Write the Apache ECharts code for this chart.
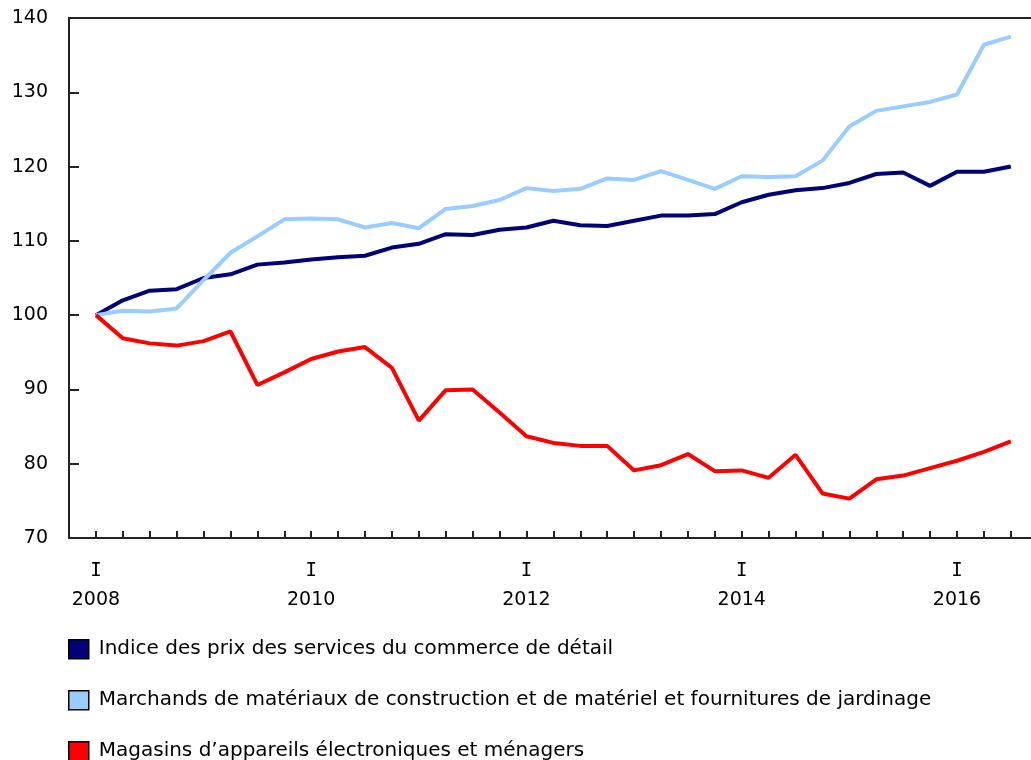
<!DOCTYPE html>
<html>
<head>
<meta charset="utf-8">
<script src="https://cdn.jsdelivr.net/npm/echarts@6/dist/echarts.min.js"></script>
<style>
  html, body { margin: 0; padding: 0; background: #fff; }
  #chart { width: 1031px; height: 760px; }
</style>
</head>
<body>
<div id="chart"></div>
<script>
// trimestres 2008 T1 .. 2016 T3
const quarters = [];
for (let y = 2008; y <= 2016; y++) {
    for (let q = 1; q <= 4; q++) {
        if (y === 2016 && q > 3) break;
        quarters.push(y + ' T' + q);
    }
}

const seriesNames = [
    'Indice des prix des services du commerce de détail',
    'Marchands de matériaux de construction et de matériel et fournitures de jardinage',
    'Magasins d\u2019appareils électroniques et ménagers'
];

const indiceCommerce = [100, 102.0, 103.3, 103.5, 105.0, 105.5, 106.8, 107.1, 107.5, 107.8,
    108.0, 109.1, 109.6, 110.9, 110.8, 111.5, 111.8, 112.7, 112.1, 112.0,
    112.7, 113.4, 113.4, 113.6, 115.2, 116.2, 116.8, 117.1, 117.8, 119.0,
    119.2, 117.4, 119.3, 119.3, 120.0];

const marchandsMateriaux = [100, 100.6, 100.5, 100.9, 104.7, 108.4, 110.6, 112.9, 113.0, 112.9,
    111.8, 112.4, 111.7, 114.3, 114.7, 115.5, 117.1, 116.7, 117.0, 118.4,
    118.2, 119.4, 118.2, 117.0, 118.7, 118.6, 118.7, 120.8, 125.4, 127.5,
    128.1, 128.7, 129.7, 136.4, 137.5];

const magasinsElectro = [100, 96.9, 96.2, 95.9, 96.5, 97.8, 90.6, 92.3, 94.1, 95.1,
    95.7, 92.9, 85.8, 89.9, 90.0, 86.9, 83.7, 82.8, 82.4, 82.4,
    79.1, 79.8, 81.3, 79.0, 79.1, 78.1, 81.2, 76.0, 75.3, 77.9,
    78.4, 79.4, 80.4, 81.6, 83.0];

const yTicks = [70, 80, 90, 100, 110, 120, 130, 140];

const colors = ['#000078', '#99ccff', '#ff0000'];
const font = 'DejaVu Sans, Verdana, sans-serif';

const toPoints = arr => arr.map((v, i) => [i, v]);

const chart = echarts.init(document.getElementById('chart'));
chart.setOption({
    animation: false,
    color: colors,
    grid: { left: 69, right: 0, top: 18, bottom: 222, containLabel: false },
    xAxis: [{
        type: 'value',
        min: -1,
        max: 34.75,
        interval: 1,
        splitLine: { show: false },
        axisLine: { onZero: false, lineStyle: { color: '#222', width: 2 } },
        axisTick: { inside: true, length: 7, lineStyle: { color: '#222', width: 2 } },
        axisLabel: {
            margin: 18,
            fontSize: 19,
            lineHeight: 29.5,
            fontFamily: font,
            color: '#000',
            showMaxLabel: false,
            rich: {
                q: { fontSize: 19, lineHeight: 29.5, fontFamily: 'DejaVu Sans Mono', color: '#000' },
                y: { fontSize: 19, lineHeight: 29.5, fontFamily: font, color: '#000' }
            },
            formatter: v => {
                if (v >= 0 && v % 8 === 0) return '{q|I}\n{y|' + quarters[v].slice(0, 4) + '}';
                return '';
            }
        }
    }, {
        type: 'value',
        position: 'top',
        min: -1,
        max: 34.75,
        axisLine: { show: true, onZero: false, lineStyle: { color: '#222', width: 2 } },
        axisTick: { show: false },
        axisLabel: { show: false },
        splitLine: { show: false }
    }],
    yAxis: {
        type: 'value',
        min: yTicks[0],
        max: yTicks[yTicks.length - 1],
        interval: 10,
        splitLine: { show: false },
        axisLine: { show: true, onZero: false, lineStyle: { color: '#222', width: 2 } },
        axisTick: { show: true, inside: true, length: 10, lineStyle: { color: '#222', width: 2 } },
        axisLabel: { fontSize: 19, fontFamily: font, color: '#000', margin: 21 }
    },
    legend: {
        orient: 'vertical',
        left: 68,
        top: 639,
        height: 130,
        icon: 'rect',
        itemWidth: 20,
        itemHeight: 19,
        itemGap: 30.5,
        padding: 0,
        itemStyle: { borderColor: '#000', borderWidth: 1.5 },
        textStyle: { fontSize: 20, lineHeight: 19, fontFamily: font, color: '#000', padding: [0, 0, 0, 5] },
        data: seriesNames
    },
    series: [
        { name: seriesNames[0], type: 'line', data: toPoints(indiceCommerce) },
        { name: seriesNames[1], type: 'line', data: toPoints(marchandsMateriaux) },
        { name: seriesNames[2], type: 'line', data: toPoints(magasinsElectro) }
    ].map(s => Object.assign(s, {
        showSymbol: false,
        symbol: 'none',
        lineStyle: { width: 4 },
        z: 3
    }))
});
</script>
</body>
</html>
